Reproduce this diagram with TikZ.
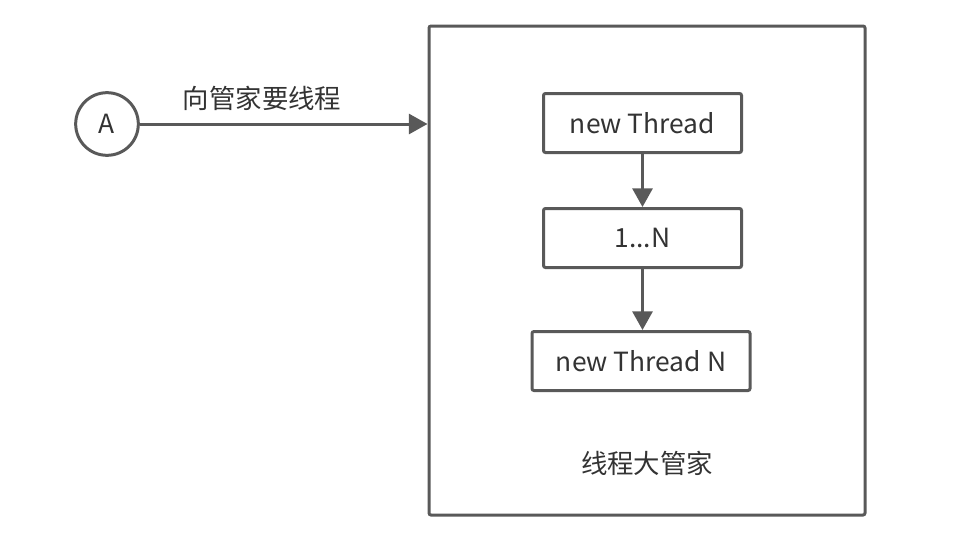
\documentclass[tikz,border=0pt]{standalone}
\usepackage{fontspec}
\setmainfont{Noto Sans CJK SC}
\usetikzlibrary{arrows.meta}
\definecolor{linegray}{RGB}{89,89,89}
\definecolor{textgray}{RGB}{51,51,51}

\begin{document}
\begin{tikzpicture}[x=0.75pt,y=0.75pt,yscale=-1,xscale=1,
  every node/.style={text=textgray,font=\fontsize{19.8pt}{23pt}\selectfont},
  threadbox/.style={draw=linegray,line width=2.25pt,rounded corners=1.5pt,fill=white,inner sep=0pt,minimum height=44.25pt},
  flowarrow/.style={draw=linegray,line width=2.25pt,-{Triangle[length=14pt,width=15pt]}}]
%set diagram size to the picture, 980 x 539
\useasboundingbox (0,0) rectangle (980,539);

%Shape: Rectangle [id:manager]
\node [draw=linegray,line width=2.25pt,rounded corners=1.5pt,inner sep=0pt,minimum width=327pt,minimum height=366.75pt] (manager) at (647,270.5) {};
%Shape: Circle [id:threadA]
\node [draw=linegray,line width=2.25pt,circle,inner sep=0pt,minimum size=47pt] (threadA) at (107,124) {A};

%Shape: Rectangle [id:first]
\node [threadbox,minimum width=148.5pt] (first) at (642.5,123) {new Thread};
%Shape: Rectangle [id:middle]
\node [threadbox,minimum width=148.5pt] (middle) at (642.5,238) {1...N};
%Shape: Rectangle [id:last]
\node [threadbox,minimum width=163.5pt] (last) at (641,361) {new Thread N};

%Straight Lines
\draw [flowarrow] (threadA) -- (threadA -| manager.west) ;
\draw [flowarrow] (first) -- (middle) ;
\draw [flowarrow] (middle) -- (middle |- last.north) ;

% Text Node
\node (askLabel) at (262,98) {向管家要线程};
% Text Node
\node (managerLabel) at (647,463) {线程大管家};

\end{tikzpicture}
\end{document}
